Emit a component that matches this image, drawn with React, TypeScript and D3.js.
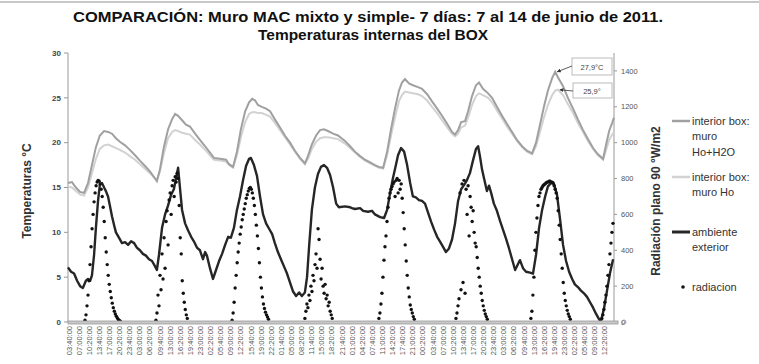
import * as d3 from 'd3'

// hours since first tick (7 de junio 03:40)
const interiorHours = [0, 1.3, 2.6, 4.0, 5.3, 6.6, 7.9, 9.2, 10.5, 11.9, 13.2, 14.5, 15.8, 17.1, 18.8, 20.4, 22.1, 23.7, 25.4, 27.0, 28.7, 29.3, 30.3, 31.6, 33.0, 34.3, 35.3, 36.3, 37.6, 38.9, 40.2, 41.9, 43.5, 45.2, 46.8, 48.1, 50.1, 52.1, 53.1, 54.4, 55.7, 57.0, 58.4, 59.7, 60.7, 61.7, 62.6, 63.9, 65.3, 66.6, 68.2, 69.9, 71.5, 73.2, 74.8, 76.5, 78.1, 79.1, 80.4, 81.8, 83.1, 84.4, 85.7, 87.4, 89.0, 91.3, 93.0, 94.6, 96.3, 97.9, 99.6, 101.2, 102.5, 103.9, 105.2, 106.5, 107.8, 109.1, 110.1, 111.1, 112.4, 113.7, 115.4, 116.7, 118.4, 120.0, 121.7, 123.3, 125.0, 126.6, 127.6, 128.6, 129.6, 130.9, 131.9, 133.2, 134.5, 135.5, 136.8, 138.5, 139.8, 141.4, 143.1, 144.7, 146.4, 148.0, 149.7, 151.3, 153.0, 154.3, 155.6, 156.9, 158.2, 159.6, 160.6, 161.5, 163.2, 164.8, 166.5, 168.1, 169.8, 171.4, 173.1, 174.7, 176.4, 177.4, 178.4, 179.4, 180.0]

const muroHoH2O = [15.5, 15.6, 15.0, 14.5, 14.4, 15.5, 17.5, 19.5, 20.8, 21.3,
  21.2, 21.0, 20.5, 20.1, 19.7, 19.2, 18.6, 18.0, 17.4, 16.8,
  16.0, 15.7, 17.0, 19.5, 21.5, 22.6, 23.2, 23.0, 22.5, 22.0,
  21.8, 21.0, 20.3, 19.6, 18.9, 18.3, 18.2, 18.1, 17.6, 17.3,
  19.0, 21.5, 23.5, 24.5, 24.9, 24.7, 24.2, 24.0, 23.8, 23.5,
  22.6, 21.7, 20.8, 20.0, 19.1, 18.3, 17.7, 18.5, 19.8, 20.8,
  21.4, 21.5, 21.3, 21.0, 20.8, 20.2, 19.6, 19.0, 18.5, 18.1,
  17.8, 17.5, 17.3, 17.2, 19.0, 21.5, 23.8, 25.8, 26.7, 27.1,
  26.6, 26.4, 26.2, 26.0, 25.4, 24.6, 23.8, 23.0, 22.1, 21.2,
  20.9, 21.4, 22.3, 22.4, 23.5, 25.2, 26.4, 26.7, 26.0, 25.5,
  25.0, 24.0, 23.0, 22.1, 21.2, 20.3, 19.6, 19.1, 18.8, 20.0,
  22.0, 24.0, 25.8, 27.2, 27.9, 27.3, 26.3, 25.0, 23.8, 22.6,
  21.4, 20.4, 19.4, 18.7, 18.2, 19.8, 21.3, 22.2, 22.8]

const muroHo = [15.1, 15.0, 14.6, 14.2, 14.1, 15.0, 16.6, 18.2, 19.3, 19.7,
  19.8, 19.6, 19.4, 19.2, 18.9, 18.5, 18.1, 17.6, 17.1, 16.6,
  16.0, 15.8, 16.8, 18.8, 20.5, 21.2, 21.4, 21.3, 21.1, 21.0,
  20.9, 20.3, 19.8, 19.2, 18.6, 18.1, 18.0, 17.9, 17.5, 17.2,
  18.6, 20.6, 22.3, 23.2, 23.4, 23.4, 23.3, 23.3, 23.1, 22.9,
  22.2, 21.4, 20.6, 19.8, 19.0, 18.2, 17.6, 18.2, 19.3, 20.1,
  20.5, 20.6, 20.6, 20.5, 20.4, 19.9, 19.4, 18.9, 18.4, 18.0,
  17.7, 17.4, 17.2, 17.1, 18.6, 20.8, 22.8, 24.6, 25.3, 25.7,
  25.6, 25.5, 25.4, 25.2, 24.7, 24.0, 23.3, 22.5, 21.7, 21.0,
  20.7, 21.0, 21.7, 21.9, 22.8, 24.2, 25.2, 25.5, 25.3, 25.0,
  24.5, 23.6, 22.7, 21.8, 21.0, 20.2, 19.5, 19.0, 18.7, 19.6,
  21.2, 22.8, 24.2, 25.3, 25.8, 25.9, 25.3, 24.3, 23.3, 22.2,
  21.2, 20.2, 19.3, 18.6, 18.1, 19.2, 20.3, 20.9, 21.2]

// [hora, °C]
const ambiente: [number, number][] = [
  [0, 6.1], [1.0, 5.6], [2.0, 5.4], [3.0, 4.6], [4.0, 4.0], [4.9, 3.8], [5.9, 4.6], [6.6, 4.8], [7.3, 4.6], [7.9, 5.2],
  [8.6, 7.5], [9.2, 10.5], [9.9, 13.5], [10.5, 15.3], [11.2, 15.5], [11.9, 15.0], [12.5, 14.6], [13.2, 14.0], [13.8, 13.0], [14.5, 11.8],
  [15.2, 10.8], [15.8, 10.0], [16.8, 9.4], [17.8, 8.8], [18.8, 8.9], [19.8, 8.6], [20.8, 9.0], [21.8, 8.8], [22.7, 8.3], [23.7, 8.0],
  [24.7, 7.6], [25.7, 7.4], [26.7, 7.0], [27.7, 6.8], [28.7, 6.2], [29.3, 5.8], [30.0, 7.5], [31.0, 10.5], [32.0, 12.0], [33.0, 13.0],
  [34.0, 14.2], [34.9, 14.8], [35.6, 16.0], [36.3, 17.2], [36.9, 15.0], [37.6, 12.5], [38.6, 11.0], [39.6, 10.2], [40.6, 9.5], [41.5, 9.0],
  [42.5, 8.3], [43.5, 8.0], [44.5, 7.0], [45.2, 7.8], [45.8, 7.4], [46.8, 6.0], [47.8, 4.8], [48.8, 5.8], [49.8, 6.8], [50.8, 7.6],
  [51.8, 8.6], [52.8, 9.5], [53.7, 9.4], [54.7, 10.5], [55.7, 12.5], [56.7, 14.0], [57.7, 15.8], [58.7, 17.4], [59.7, 18.2], [60.3, 18.3],
  [61.3, 17.5], [62.3, 16.3], [63.3, 14.0], [64.3, 12.0], [65.3, 11.0], [66.3, 10.4], [67.3, 9.8], [68.2, 8.8], [69.2, 7.8], [70.2, 7.0],
  [71.2, 6.2], [72.2, 5.4], [73.2, 4.4], [74.2, 3.4], [75.2, 2.9], [76.2, 3.3], [77.1, 2.9], [78.1, 3.3], [78.8, 5.0], [79.5, 8.5],
  [80.4, 12.5], [81.4, 15.0], [82.4, 16.5], [83.4, 17.3], [84.4, 17.5], [85.4, 17.2], [86.4, 16.4], [87.4, 15.0], [88.4, 13.2], [89.3, 12.8],
  [91.3, 12.9], [93.0, 12.8], [93.6, 12.7], [94.6, 12.6], [96.3, 12.7], [97.3, 12.4], [98.9, 12.3], [100.2, 12.4], [101.2, 12.0], [102.9, 11.7],
  [104.2, 11.6], [105.2, 12.5], [106.2, 14.4], [107.1, 16.0], [108.1, 17.5], [108.8, 18.6], [109.8, 19.4], [110.8, 19.0], [111.8, 17.5], [112.8, 15.5],
  [113.7, 14.0], [114.7, 13.9], [115.7, 13.6], [116.7, 13.5], [117.7, 13.2], [118.7, 12.2], [119.7, 11.2], [120.7, 10.3], [121.7, 9.5], [122.6, 9.0],
  [123.6, 8.4], [124.6, 7.8], [125.6, 8.2], [126.6, 9.2], [127.6, 11.0], [128.6, 13.5], [129.6, 14.8], [130.6, 15.3], [131.5, 15.8], [132.5, 16.6],
  [133.5, 18.0], [134.5, 19.3], [135.2, 19.6], [135.8, 18.5], [136.5, 17.0], [137.5, 15.5], [138.1, 14.6], [138.8, 15.2], [139.5, 14.4], [140.4, 13.2],
  [141.4, 12.4], [142.4, 11.3], [143.4, 10.3], [144.4, 9.3], [145.4, 8.2], [146.4, 7.0], [147.4, 5.8], [148.4, 6.5], [149.0, 6.9], [150.0, 6.0],
  [151.0, 5.6], [152.3, 5.5], [153.3, 5.4], [154.3, 7.5], [155.3, 10.5], [156.3, 12.5], [157.3, 14.0], [158.2, 15.1], [159.2, 15.5], [160.2, 15.4],
  [161.2, 14.2], [162.2, 11.5], [163.2, 8.6], [164.2, 6.8], [165.2, 5.6], [166.2, 4.8], [167.1, 4.2], [168.1, 3.9], [169.1, 3.5], [170.1, 3.2],
  [171.1, 2.8], [172.1, 2.2], [173.1, 1.6], [174.1, 0.9], [175.1, 0.3], [175.7, 0.1], [176.7, 1.5], [177.7, 3.5], [178.7, 5.5], [179.7, 7.0]
]

// radiacion W/m2, cada 20 minutos desde radStart (horas)
const radStart = [5.6, 29.0, 54.1, 78.1, 102.5, 127.9, 152.6, 176.0]
const radDia1 = [10, 40, 90, 150, 230, 320, 420, 520, 600, 670, 720, 760, 780, 790, 785, 770, 740, 700, 640, 560, 470, 390, 320, 260, 210, 170, 135, 105, 80, 60, 45, 32, 22, 14, 8, 4]
const radDia2 = [10, 50, 150, 90, 260, 180, 380, 240, 470, 300, 560, 620, 430, 680, 720, 600, 760, 790, 700, 810, 780, 830, 800, 650, 470, 380, 230, 160, 110, 70, 40, 20]
const radDia3 = [10, 50, 110, 190, 260, 330, 390, 440, 490, 530, 570, 600, 630, 660, 690, 710, 730, 745, 750, 740, 720, 690, 650, 600, 540, 480, 410, 330, 250, 190, 140, 100, 75, 55, 40, 28, 15]
const radDia4 = [20, 60, 100, 80, 150, 120, 200, 170, 260, 230, 320, 380, 300, 520, 460, 350, 240, 300, 200, 160, 210, 130, 150, 90, 110, 60, 40, 20]
const radDia5 = [20, 50, 100, 160, 250, 345, 420, 480, 560, 640, 690, 720, 740, 755, 770, 780, 700, 790, 800, 720, 790, 740, 770, 690, 610, 520, 430, 340, 260, 190, 140, 95, 70, 50, 30, 15]
const radDia6 = [20, 50, 90, 130, 720, 180, 770, 220, 790, 160, 740, 600, 760, 480, 700, 640, 560, 620, 500, 440, 420, 360, 300, 250, 200, 160, 120, 90, 65, 45, 30, 15]
const radDia7 = [20, 60, 150, 250, 400, 500, 580, 650, 700, 720, 740, 750, 760, 765, 770, 775, 780, 780, 785, 785, 780, 780, 775, 760, 740, 720, 690, 620, 540, 460, 380, 300, 220, 160, 120, 90, 65, 45, 30, 15]
const radDia8 = [20, 40, 70, 110, 150, 200, 260, 320, 380, 440, 500, 550]
const radDias = [radDia1, radDia2, radDia3, radDia4, radDia5, radDia6, radDia7, radDia8]

const tempTicks = [0, 5, 10, 15, 20, 25, 30]
const radTicks = [0, 200, 400, 600, 800, 1000, 1200, 1400]

const timeLabels = ['03:40:00', '07:00:00', '10:20:00', '13:40:00', '17:00:00', '20:20:00', '23:40:00', '03:00:00', '06:20:00', '09:40:00',
  '13:00:00', '16:20:00', '19:40:00', '23:00:00', '02:20:00', '05:40:00', '09:00:00', '12:20:00', '15:40:00', '19:00:00',
  '22:20:00', '01:40:00', '05:00:00', '08:20:00', '11:40:00', '15:00:00', '18:20:00', '21:40:00', '01:00:00', '04:20:00',
  '07:40:00', '11:00:00', '14:20:00', '17:40:00', '21:00:00', '00:20:00', '03:40:00', '07:00:00', '10:20:00', '13:40:00',
  '17:00:00', '20:20:00', '23:40:00', '03:00:00', '06:20:00', '09:40:00', '13:00:00', '16:20:00', '19:40:00', '23:00:00',
  '02:20:00', '05:40:00', '09:00:00', '12:20:00']

const FONT = 'Liberation Sans, Arial, sans-serif'

export default function App() {
  const width = 759
  const height = 364
  const left = 68, right = 614, top = 53, bottom = 322

  const x = d3.scaleLinear().domain([0, 180]).range([left, right])
  const yT = d3.scaleLinear().domain([0, 30]).range([bottom, top])
  const yR = d3.scaleLinear().domain([0, 1500]).range([bottom, top])

  const lineT = d3.line<[number, number]>().x(d => x(d[0])).y(d => yT(d[1]))

  const serieH2O = interiorHours.map((h, i) => [h, muroHoH2O[i]] as [number, number])
  const serieHo = interiorHours.map((h, i) => [h, muroHo[i]] as [number, number])

  const puntosRad: [number, number][] = []
  radDias.forEach((dia, k) => {
    dia.forEach((v, i) => puntosRad.push([radStart[k] + i / 3, v]))
  })

  const tickStep = 10 / 3
  const tickOffset = 1 / 3

  const peak1 = [160.6, 27.9]
  const peak2 = [161.5, 25.9]

  return (
    <svg width={width} height={height} style={{ position: 'absolute', left: 0, top: 0, background: '#fff' }}
      fontFamily={FONT}>
      <defs>
        <marker id="flecha" viewBox="0 0 10 10" refX="9" refY="5" markerWidth="5" markerHeight="5" orient="auto">
          <path d="M0,0 L10,5 L0,10 z" fill="#333" />
        </marker>
      </defs>
      <rect width={width} height={height} fill="#fff" />
      <line x1={0} x2={width} y1={2} y2={2} stroke="#c8c8c8" strokeWidth={2} />

      {/* Titulo */}
      <text x={368} y={22} textAnchor="middle" fontSize={15.5} fontWeight="bold" fill="#111"
        textLength={590} lengthAdjust="spacingAndGlyphs">
        COMPARACIÓN: Muro MAC mixto  y simple- 7 días: 7 al 14 de junio de 2011.
      </text>
      <text x={373} y={40} textAnchor="middle" fontSize={15.5} fontWeight="bold" fill="#111"
        textLength={230} lengthAdjust="spacingAndGlyphs">
        Temperaturas internas del BOX
      </text>

      {/* eje izquierdo */}
      <line x1={left} x2={left} y1={top} y2={bottom} stroke="#999" />
      {tempTicks.map(t => (
        <g key={'t' + t}>
          <line x1={left - 4} x2={left} y1={yT(t)} y2={yT(t)} stroke="#999" />
          <text x={left - 7} y={yT(t)} dy="0.35em" textAnchor="end" fontSize={8} fontWeight="bold" fill="#444">{t}</text>
        </g>
      ))}
      <text transform={`translate(31,191) rotate(-90)`} textAnchor="middle" fontSize={12} fontWeight="bold" fill="#333">
        Temperaturas °C
      </text>

      {/* eje derecho */}
      <line x1={right} x2={right} y1={top} y2={bottom} stroke="#999" />
      {radTicks.map(t => (
        <g key={'r' + t}>
          <line x1={right} x2={right + 3} y1={yR(t)} y2={yR(t)} stroke="#999" />
          <text x={right + 7} y={yR(t)} dy="0.35em" fontSize={7.5} fill="#555">{t}</text>
        </g>
      ))}
      <text transform={`translate(660,201) rotate(-90)`} textAnchor="middle" fontSize={12} fontWeight="bold" fill="#333">
        Radiación plano 90 °W/m2
      </text>

      {/* series */}
      <path d={lineT(serieHo) || ''} fill="none" stroke="#d2d2d2" strokeWidth={2} />
      <path d={lineT(serieH2O) || ''} fill="none" stroke="#a0a0a0" strokeWidth={2} />
      <path d={lineT(ambiente) || ''} fill="none" stroke="#262626" strokeWidth={2.4} strokeLinejoin="round" />
      {puntosRad.map((p, i) => (
        <circle key={'p' + i} cx={x(p[0])} cy={yR(p[1])} r={1.7} fill="#111" />
      ))}

      {/* eje x */}
      <rect x={left} y={bottom - 1} width={right - left + 4} height={3} fill="#c8c8c8" stroke="#999" strokeWidth={0.8} />
      <circle cx={624} cy={322} r={2} fill="none" stroke="#999" />
      {timeLabels.map((lab, i) => (
        <text key={'x' + i} transform={`translate(${x(tickOffset + i * tickStep) + 2.5},326) rotate(-90)`}
          textAnchor="end" fontSize={7.5} fill="#555">{lab}</text>
      ))}

      {/* anotaciones */}
      <rect x={572} y={58} width={40} height={17} fill="#fff" stroke="#bbb" />
      <text x={592} y={69.5} textAnchor="middle" fontSize={7.5} fill="#444">27,9°C</text>
      <line x1={572} y1={66} x2={x(peak1[0]) + 2} y2={yT(peak1[1])} stroke="#333" strokeWidth={0.8} markerEnd="url(#flecha)" />
      <rect x={573} y={83} width={39} height={15} fill="#fff" stroke="#bbb" />
      <text x={592} y={93.5} textAnchor="middle" fontSize={7.5} fill="#444">25,9°</text>
      <line x1={573} y1={91} x2={x(peak2[0]) + 2} y2={yT(peak2[1])} stroke="#333" strokeWidth={0.8} markerEnd="url(#flecha)" />

      {/* leyenda */}
      <line x1={672} x2={690} y1={121} y2={121} stroke="#a0a0a0" strokeWidth={2.5} />
      <text x={692} y={125} fontSize={11} fill="#333">interior box:</text>
      <text x={692} y={140} fontSize={11} fill="#333">muro</text>
      <text x={692} y={156} fontSize={11} fill="#333">Ho+H2O</text>
      <line x1={672} x2={690} y1={177} y2={177} stroke="#d2d2d2" strokeWidth={2.5} />
      <text x={692} y={181} fontSize={11} fill="#333">interior box:</text>
      <text x={692} y={196} fontSize={11} fill="#333">muro Ho</text>
      <line x1={672} x2={690} y1={232} y2={232} stroke="#262626" strokeWidth={3} />
      <text x={692} y={236} fontSize={11} fill="#333">ambiente</text>
      <text x={692} y={251} fontSize={11} fill="#333">exterior</text>
      <circle cx={683} cy={287} r={1.8} fill="#111" />
      <text x={692} y={291} fontSize={11} fill="#333">radiacion</text>
    </svg>
  )
}
